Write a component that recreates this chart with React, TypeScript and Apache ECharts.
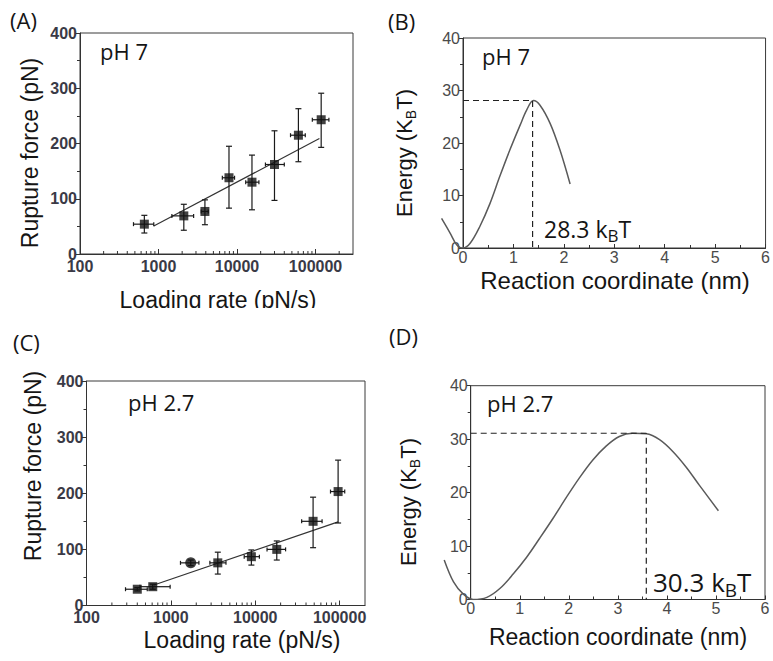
import React, { useEffect, useRef } from 'react';
import * as echarts from 'echarts';

// ---------- Panel A : pH 7, rupture force vs loading rate ----------
const aRate = [660, 2100, 3900, 7900, 15500, 30000, 60500, 118000];
const aForce = [54, 69, 77, 138, 130, 162, 215, 243];
const aForceLo = [38, 43, 53, 83, 80, 97, 167, 193];
const aForceHi = [70, 90, 98, 195, 179, 223, 263, 291];
const aRateLo = [480, 1480, 3500, 6500, 12900, 23000, 48000, 91000];
const aRateHi = [870, 2800, 4300, 9300, 19000, 40000, 74000, 148000];
const aFitRate = [870, 112000];
const aFitForce = [50.6, 209];

// ---------- Panel C : pH 2.7 ----------
const cRate = [400, 610, 1720, 3600, 9000, 18000, 48500, 96000];
const cForce = [29, 33.5, 76, 76, 87, 100, 150, 203];
const cForceLo = [26, 29, 71, 56, 72, 81, 103, 147];
const cForceHi = [32, 38, 81, 95, 99, 115, 193, 259];
const cRateLo = [290, 430, 1300, 2900, 7400, 13800, 35500, 78000];
const cRateHi = [525, 980, 2150, 4500, 11200, 22900, 62000, 115000];
const cFitRate = [630, 96000];
const cFitForce = [36.5, 149];
const cCircleIndex = 2;

// log-axis minor tick positions
const logMinorTicks = [
  200, 300, 400, 500, 600, 700, 800, 900,
  2000, 3000, 4000, 5000, 6000, 7000, 8000, 9000,
  20000, 30000, 40000, 50000, 60000, 70000, 80000, 90000,
  200000, 300000,
];

// ---------- Panel B : pH 7 energy landscape ----------
const bCoord = [-0.42, -0.25, -0.12, 0, 0.14, 0.33, 0.53, 0.72, 0.92, 1.12, 1.25, 1.38, 1.51, 1.71, 1.9, 2.1];
const bEnergy = [5.65, 2.8, 0.57, 0, 0.9, 4.1, 8.5, 13.6, 18.7, 23.4, 26.3, 28.1, 27.2, 23.7, 18.7, 12.2];
const bBarrierX = 1.38;
const bBarrierE = 28.1;
const bLabel = '28.3';

// ---------- Panel D : pH 2.7 energy landscape ----------
const dCoord = [-0.54, -0.35, -0.15, 0.05, 0.33, 0.6, 0.87, 1.14, 1.41, 1.68, 1.95, 2.22, 2.49, 2.76, 3.03, 3.3, 3.58, 3.85, 4.12, 4.39, 4.66, 5.05];
const dEnergy = [7.4, 3.3, 1.0, 0, 0.4, 2.1, 4.8, 7.9, 11.5, 15.2, 19.1, 22.8, 26.1, 28.7, 30.5, 31.1, 31.0, 29.9, 27.7, 24.8, 21.4, 16.6];
const dBarrierX = 3.58;
const dBarrierE = 31.1;
const dLabel = '30.3';

// extended coordinate range so the curves can run left of the y axis
const coordMinExt = -0.6;
const coordMax = 6;

const AX = 'Liberation Sans, Arial, sans-serif';
const AN = 'Open Sans, Noto Sans, sans-serif';

const errRender = (params: any, api: any) => {
  const x = api.value(0), y = api.value(1);
  const xl = api.value(2), xh = api.value(3), yl = api.value(4), yh = api.value(5);
  const c = api.coord([x, y]);
  const pyl = api.coord([x, yl]);
  const pyh = api.coord([x, yh]);
  const pxl = api.coord([xl, y]);
  const pxh = api.coord([xh, y]);
  const st = { stroke: '#1a1a1a', lineWidth: 1.2 };
  const cw = 3, ch = 2;
  return {
    type: 'group',
    children: [
      { type: 'line', shape: { x1: c[0], y1: pyl[1], x2: c[0], y2: pyh[1] }, style: st },
      { type: 'line', shape: { x1: c[0] - cw, y1: pyl[1], x2: c[0] + cw, y2: pyl[1] }, style: st },
      { type: 'line', shape: { x1: c[0] - cw, y1: pyh[1], x2: c[0] + cw, y2: pyh[1] }, style: st },
      { type: 'line', shape: { x1: pxl[0], y1: c[1], x2: pxh[0], y2: c[1] }, style: st },
      { type: 'line', shape: { x1: pxl[0], y1: c[1] - ch, x2: pxl[0], y2: c[1] + ch }, style: st },
      { type: 'line', shape: { x1: pxh[0], y1: c[1] - ch, x2: pxh[0], y2: c[1] + ch }, style: st },
    ],
  };
};

const minorRender = (params: any, api: any) => {
  const p = api.coord([api.value(0), 0]);
  return {
    type: 'line',
    shape: { x1: p[0], y1: p[1], x2: p[0], y2: p[1] - 3 },
    style: { stroke: '#333', lineWidth: 1 },
  };
};

const TICK_AC = { fontSize: 16, fontWeight: 'bold', color: '#3a3a46', fontFamily: AX };
const TICK_BD = { fontSize: 16, color: '#4a4a4a', fontFamily: AX };

function logAxis(gridIndex: number, max: number) {
  return {
    type: 'log', gridIndex, logBase: 10, min: 100, max,
    axisLine: { show: true, lineStyle: { color: '#333', width: 1 } },
    axisTick: { show: true, inside: true, length: 5, lineStyle: { color: '#333' } },
    axisLabel: {
      showMaxLabel: false, showMinLabel: true,
      formatter: (v: number) => String(Math.round(v)),
      ...TICK_AC, margin: 4,
    },
    splitLine: { show: false },
  };
}
function forceAxis(gridIndex: number) {
  return {
    type: 'value', gridIndex, min: 0, max: 400, interval: 100,
    axisLine: { show: true, lineStyle: { color: '#333', width: 1 } },
    axisTick: { show: true, inside: false, length: 5, lineStyle: { color: '#333' } },
    minorTick: { show: true, splitNumber: 2, length: 3, lineStyle: { color: '#333' } },
    axisLabel: { ...TICK_AC, margin: 3 },
    splitLine: { show: false },
  };
}
function coordAxis(gridIndex: number) {
  return {
    type: 'value', gridIndex, min: 0, max: coordMax, interval: 1,
    axisLine: { show: true, lineStyle: { color: '#333', width: 1 } },
    axisTick: { show: true, inside: true, length: 4, lineStyle: { color: '#333' } },
    minorTick: { show: true, splitNumber: 2, length: 3, lineStyle: { color: '#333' } },
    axisLabel: { ...TICK_BD, margin: 1 },
    splitLine: { show: false },
  };
}
function energyAxis(gridIndex: number) {
  return {
    type: 'value', gridIndex, min: 0, max: 40, interval: 10,
    axisLine: { show: true, lineStyle: { color: '#333', width: 1 } },
    axisTick: { show: true, inside: false, length: 4, lineStyle: { color: '#333' } },
    minorTick: { show: true, splitNumber: 2, length: 3, lineStyle: { color: '#333' } },
    axisLabel: { ...TICK_BD, margin: 3 },
    splitLine: { show: false },
  };
}
// hidden axes of the extended grids that carry the energy curves
function hiddenCoordAxis(gridIndex: number) {
  return {
    type: 'value', gridIndex, min: coordMinExt, max: coordMax, show: false,
    axisLine: { show: false }, axisTick: { show: false }, axisLabel: { show: false }, splitLine: { show: false },
  };
}
function hiddenEnergyAxis(gridIndex: number) {
  return {
    type: 'value', gridIndex, min: 0, max: 40, show: false,
    axisLine: { show: false }, axisTick: { show: false }, axisLabel: { show: false }, splitLine: { show: false },
  };
}

function forceSeries(idx: number, rate: number[], force: number[], fLo: number[], fHi: number[],
  rLo: number[], rHi: number[], fitR: number[], fitF: number[], max: number, circleIdx: number) {
  return [
    {
      type: 'line', xAxisIndex: idx, yAxisIndex: idx, showSymbol: false, silent: true, z: 2,
      data: fitR.map((r, i) => [r, fitF[i]]),
      lineStyle: { color: '#333', width: 1.2 },
    },
    {
      type: 'custom', xAxisIndex: idx, yAxisIndex: idx, renderItem: errRender, silent: true, z: 3,
      encode: { x: [0, 2, 3], y: [1, 4, 5] },
      data: rate.map((r, i) => [r, force[i], rLo[i], rHi[i], fLo[i], fHi[i]]),
    },
    {
      type: 'scatter', xAxisIndex: idx, yAxisIndex: idx, symbol: 'rect', symbolSize: 9, z: 4, silent: true,
      itemStyle: { color: '#111' },
      data: rate.map((r, i) => (i === circleIdx
        ? { value: [r, force[i]], symbol: 'circle', symbolSize: 11 }
        : [r, force[i]])),
    },
    {
      type: 'custom', xAxisIndex: idx, yAxisIndex: idx, renderItem: minorRender, silent: true, clip: false, z: 5,
      encode: { x: 0, y: 1 },
      data: logMinorTicks.filter((v) => v < max).map((v) => [v, 0]),
    },
  ];
}

function energySeries(idx: number, extIdx: number, xs: number[], es: number[], bx: number, be: number) {
  return [
    {
      type: 'line', xAxisIndex: extIdx, yAxisIndex: extIdx, showSymbol: false, smooth: 0.35, silent: true,
      data: xs.map((x, i) => [x, es[i]]),
      lineStyle: { color: '#5a5a5a', width: 1.5 },
    },
    {
      type: 'line', xAxisIndex: idx, yAxisIndex: idx, showSymbol: false, silent: true,
      data: [[0, be], [bx, be], [bx, 0]],
      lineStyle: { color: '#222', width: 1.2, type: [6, 4] },
    },
  ];
}

function txt(text: string, x: number, y: number, size: number, family: string, extra: any = {}) {
  return {
    type: 'text', x, y, z: 10, silent: true,
    style: { text, fontSize: size, fontFamily: family, fill: '#151515', align: 'left', verticalAlign: 'middle', ...extra },
  };
}

// text with a subscript; (x, y) = left/centre of the top of the main glyph line
function subText(main1: string, sub: string, main2: string, x: number, y: number, size: number,
  subSize: number, family: string, extra: any = {}) {
  const L = size / 2 + 0.357 * size + 0.2 * size - 0.357 * subSize + subSize / 2;
  const { align, ...rest } = extra;
  return {
    type: 'text', x, y, z: 10, silent: true, ...rest,
    style: {
      text: `{n|${main1}}{s|${sub}}{n|${main2}}`,
      align: align || 'left', verticalAlign: 'top',
      rich: {
        n: { fontSize: size, fontFamily: family, fill: '#151515', lineHeight: size, verticalAlign: 'top' },
        s: { fontSize: subSize, fontFamily: family, fill: '#151515', lineHeight: L, verticalAlign: 'bottom' },
      },
    },
  };
}

export default function App() {
  const ref = useRef<HTMLDivElement>(null);
  useEffect(() => {
    if (!ref.current) return;
    const chart = echarts.init(ref.current, undefined, { renderer: 'svg' });
    const gridBase = { show: true, borderColor: '#3a3a3a', borderWidth: 1, backgroundColor: 'transparent', containLabel: false };
    const hiddenGrid = { show: false, containLabel: false };
    const bLeft = 463, bWidth = 306, dLeft = 470.7, dWidth = 294.3;
    const bUnit = bWidth / coordMax, dUnit = dWidth / coordMax;
    const option: any = {
      animation: false,
      backgroundColor: '#ffffff',
      textStyle: { fontFamily: AX },
      grid: [
        { ...gridBase, left: 80, top: 33, width: 273, height: 221 },
        { ...gridBase, left: bLeft, top: 38, width: bWidth, height: 210 },
        { ...gridBase, left: 86.5, top: 381, width: 278.5, height: 224.5 },
        { ...gridBase, left: dLeft, top: 385.7, width: dWidth, height: 213.8 },
        { ...hiddenGrid, left: bLeft + coordMinExt * bUnit, top: 38, width: bWidth - coordMinExt * bUnit, height: 210 },
        { ...hiddenGrid, left: dLeft + coordMinExt * dUnit, top: 385.7, width: dWidth - coordMinExt * dUnit, height: 213.8 },
      ],
      xAxis: [logAxis(0, 300000), coordAxis(1), logAxis(2, 200000), coordAxis(3), hiddenCoordAxis(4), hiddenCoordAxis(5)],
      yAxis: [forceAxis(0), energyAxis(1), forceAxis(2), energyAxis(3), hiddenEnergyAxis(4), hiddenEnergyAxis(5)],
      series: [
        ...forceSeries(0, aRate, aForce, aForceLo, aForceHi, aRateLo, aRateHi, aFitRate, aFitForce, 300000, -1),
        ...energySeries(1, 4, bCoord, bEnergy, bBarrierX, bBarrierE),
        ...forceSeries(2, cRate, cForce, cForceLo, cForceHi, cRateLo, cRateHi, cFitRate, cFitForce, 200000, cCircleIndex),
        ...energySeries(3, 5, dCoord, dEnergy, dBarrierX, dBarrierE),
      ],
      graphic: [
        // panel letters
        txt('(A)', 10, 20, 22, AN),
        txt('(B)', 388, 21, 22, AN),
        txt('(C)', 13, 342, 22, AN),
        txt('(D)', 389, 336, 22, AN),
        // pH labels
        txt('pH 7', 100, 50.5, 22, AN),
        txt('pH 7', 482, 55.5, 22, AN),
        txt('pH 2.7', 128, 402, 22, AN),
        txt('pH 2.7', 487, 402.5, 22, AN),
        // barrier annotations
        subText(`${bLabel} k`, 'B', 'T', 544, 229 - 11.5, 23, 17, AN),
        subText(`${dLabel} k`, 'B', 'T', 653, 582 - 13, 26, 19, AN),
        // axis titles
        txt('Loading rate (pN/s)', 218, 300, 23, AX, { align: 'center' }),
        txt('Loading rate (pN/s)', 242, 640, 23, AX, { align: 'center' }),
        txt('Reaction coordinate (nm)', 615, 280, 24, AX, { align: 'center' }),
        txt('Reaction coordinate (nm)', 618, 637, 23, AX, { align: 'center' }),
        { ...txt('Rupture force (pN)', 30, 153, 23, AX, { align: 'center' }), rotation: Math.PI / 2 },
        { ...txt('Rupture force (pN)', 33, 466, 23, AX, { align: 'center' }), rotation: Math.PI / 2 },
        subText('Energy (K', 'B', 'T)', 393, 153, 22, 14, AX, { rotation: Math.PI / 2, align: 'center' }),
        subText('Energy (K', 'B', 'T)', 397, 502, 22, 14, AX, { rotation: Math.PI / 2, align: 'center' }),
        // crop of the original figure below panel A's x title
        { type: 'rect', z: 20, silent: true, shape: { x: 95, y: 308, width: 250, height: 12 }, style: { fill: '#ffffff' } },
      ],
    };
    chart.setOption(option);
    return () => chart.dispose();
  }, []);
  return (
    <div
      ref={ref}
      style={{ position: 'absolute', left: 0, top: 0, width: 773, height: 661, background: '#fff' }}
    />
  );
}
